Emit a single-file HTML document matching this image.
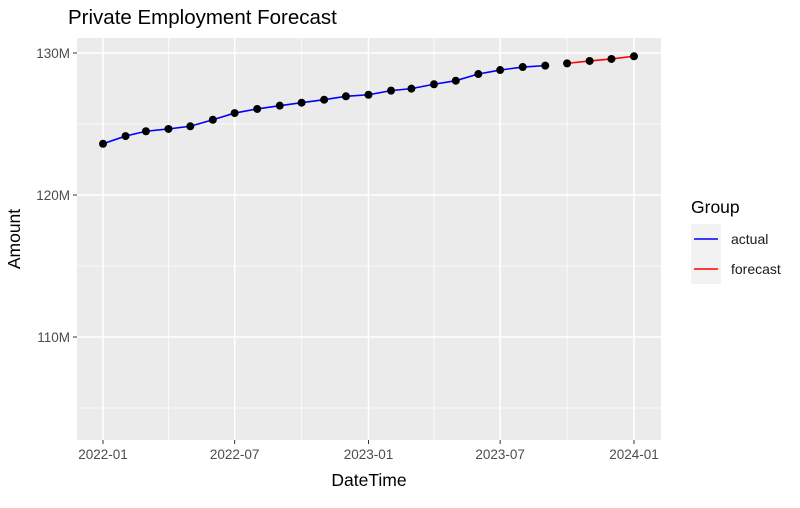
<!DOCTYPE html>
<html><head><meta charset="utf-8"><style>
body{margin:0;background:#fff;font-family:"Liberation Sans",sans-serif}
svg text{font-family:"Liberation Sans",sans-serif}
</style></head><body>
<svg id="chart" width="800" height="503" xmlns="http://www.w3.org/2000/svg">
<text x="68" y="24" font-size="20.5" fill="#000">Private Employment Forecast</text>
<rect x="77" y="38" width="584" height="402" fill="#ebebeb"/>
<g id="grid"></g>
<g id="marks"></g>
<g id="axes"></g>
<text x="369" y="486" font-size="17.5" text-anchor="middle">DateTime</text>
<text transform="translate(20,239) rotate(-90)" font-size="17.5" text-anchor="middle">Amount</text>
<g>
<text x="691" y="213" font-size="17.5">Group</text>
<rect x="691" y="224" width="30" height="60" fill="#f2f2f2"/>
<line x1="694" x2="718" y1="239" y2="239" stroke="#0000ff" stroke-width="1.6"/>
<line x1="694" x2="718" y1="269" y2="269" stroke="#ff0000" stroke-width="1.6"/>
<text x="731" y="244" font-size="14" fill="#1a1a1a">actual</text>
<text x="731" y="274" font-size="14" fill="#1a1a1a">forecast</text>
</g>
</svg>
<script>
const actualDates = ["2022-01","2022-02","2022-03","2022-04","2022-05","2022-06","2022-07","2022-08","2022-09","2022-10","2022-11","2022-12","2023-01","2023-02","2023-03","2023-04","2023-05","2023-06","2023-07","2023-08","2023-09"];
const actualValues = [123.61,124.15,124.49,124.65,124.84,125.30,125.77,126.06,126.29,126.50,126.71,126.95,127.06,127.35,127.49,127.80,128.05,128.52,128.80,129.01,129.11];
const forecastDates = ["2023-10","2023-11","2023-12","2024-01"];
const forecastValues = [129.27,129.44,129.58,129.77];
const xTicks = ["2022-01","2022-07","2023-01","2023-07","2024-01"];
const yTicks = [110,120,130];
const yTickLabels = ["110M","120M","130M"];

const NS="http://www.w3.org/2000/svg";
function dayNum(d){const [y,m]=d.split("-").map(Number);return Date.UTC(y,m-1,1)/86400000;}
const x0=dayNum("2022-01"),x1=dayNum("2024-01");
function xS(d){return 103+(dayNum(d)-x0)/(x1-x0)*(634-103);}
function yS(v){return 53+(130-v)*14.2;}
function mk(tag,attrs,parent){const e=document.createElementNS(NS,tag);for(const k in attrs)e.setAttribute(k,attrs[k]);parent.appendChild(e);return e;}
const grid=document.getElementById("grid"),marks=document.getElementById("marks"),axes=document.getElementById("axes");
for(let i=0;i<yTicks.length;i++){
  const ym=yTicks[i]-5;
  const l=mk("line",{x1:77,x2:661,y1:yS(ym),y2:yS(ym),stroke:"#fff","stroke-width":0.7},grid);
  
  
}
mk("line",{x1:77,x2:661,y1:yS(135),y2:yS(135),stroke:"#fff","stroke-width":0.7},grid);
const minorX=["2021-10","2022-04","2022-10","2023-04","2023-10","2024-04"];
minorX.forEach(d=>{const xx=xS(d);if(xx>77&&xx<661){const l=mk("line",{x1:xx,x2:xx,y1:38,y2:440,stroke:"#fff","stroke-width":0.7},grid);
  
  }});
yTicks.forEach((v,i)=>{
  const l=mk("line",{x1:77,x2:661,y1:yS(v),y2:yS(v),stroke:"#fff","stroke-width":1.5},grid);
  
  
  mk("line",{x1:73,x2:77,y1:yS(v),y2:yS(v),stroke:"#333","stroke-width":1},axes);
  const t=mk("text",{x:70,y:yS(v)+4.8,"font-size":13.5,"text-anchor":"end",fill:"#4d4d4d"},axes);
  t.textContent=yTickLabels[i];
  
  
});
xTicks.forEach(d=>{
  const xx=xS(d);
  const l=mk("line",{x1:xx,x2:xx,y1:38,y2:440,stroke:"#fff","stroke-width":1.5},grid);
  
  
  mk("line",{x1:xx,x2:xx,y1:440,y2:444,stroke:"#333","stroke-width":1},axes);
  const t=mk("text",{x:xx,y:459,"font-size":13.5,"text-anchor":"middle",fill:"#4d4d4d"},axes);
  t.textContent=d;
  
  
});
function series(dates,vals,color,name){
  const pts=dates.map((d,i)=>xS(d)+","+yS(vals[i])).join(" ");
  const pl=mk("polyline",{points:pts,fill:"none",stroke:color,"stroke-width":1.6},marks);
  
  
}
series(actualDates,actualValues,"#0000ff","actual");
series(forecastDates,forecastValues,"#ff0000","forecast");
function pts(dates,vals,name){
  dates.forEach((d,i)=>{
    const c=mk("circle",{cx:xS(d),cy:yS(vals[i]),r:4,fill:"#000"},marks);
    
    
  });
}
pts(actualDates,actualValues,"actual");
pts(forecastDates,forecastValues,"forecast");
</script>
</body></html>
